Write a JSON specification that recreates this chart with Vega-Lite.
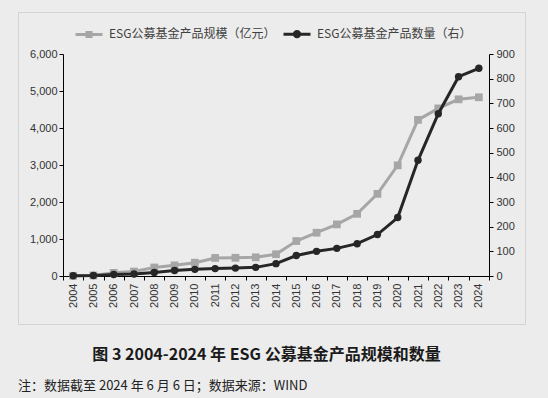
{
  "$schema": "https://vega.github.io/schema/vega-lite/v6.json",
  "width": 507,
  "height": 312,
  "autosize": {"type": "none"},
  "padding": {"left": 18, "top": 12, "right": 23, "bottom": 74},
  "background": "#ececec",
  "config": {"view": {"stroke": "#d3d3d3", "strokeWidth": 1}, "font": "Liberation Sans"},
  "title": {
    "text": "注：数据截至 2024 年 6 月 6 日；数据来源：WIND",
    "orient": "bottom", "anchor": "start", "frame": "group", "offset": 18,
    "fontSize": 13, "fontWeight": "normal", "font": "Noto Sans CJK SC", "color": "#222222", "baseline": "top"
  },
  "data": {"values": [
    {"year": "2004", "series": "ESG公募基金产品规模（亿元）", "value": 5},
    {"year": "2005", "series": "ESG公募基金产品规模（亿元）", "value": 15},
    {"year": "2006", "series": "ESG公募基金产品规模（亿元）", "value": 85},
    {"year": "2007", "series": "ESG公募基金产品规模（亿元）", "value": 120},
    {"year": "2008", "series": "ESG公募基金产品规模（亿元）", "value": 230},
    {"year": "2009", "series": "ESG公募基金产品规模（亿元）", "value": 288},
    {"year": "2010", "series": "ESG公募基金产品规模（亿元）", "value": 360},
    {"year": "2011", "series": "ESG公募基金产品规模（亿元）", "value": 488},
    {"year": "2012", "series": "ESG公募基金产品规模（亿元）", "value": 492},
    {"year": "2013", "series": "ESG公募基金产品规模（亿元）", "value": 505},
    {"year": "2014", "series": "ESG公募基金产品规模（亿元）", "value": 588},
    {"year": "2015", "series": "ESG公募基金产品规模（亿元）", "value": 945},
    {"year": "2016", "series": "ESG公募基金产品规模（亿元）", "value": 1170},
    {"year": "2017", "series": "ESG公募基金产品规模（亿元）", "value": 1395},
    {"year": "2018", "series": "ESG公募基金产品规模（亿元）", "value": 1680},
    {"year": "2019", "series": "ESG公募基金产品规模（亿元）", "value": 2220},
    {"year": "2020", "series": "ESG公募基金产品规模（亿元）", "value": 2990},
    {"year": "2021", "series": "ESG公募基金产品规模（亿元）", "value": 4220},
    {"year": "2022", "series": "ESG公募基金产品规模（亿元）", "value": 4530},
    {"year": "2023", "series": "ESG公募基金产品规模（亿元）", "value": 4775},
    {"year": "2024", "series": "ESG公募基金产品规模（亿元）", "value": 4830},
    {"year": "2004", "series": "ESG公募基金产品数量（右）", "value": 1},
    {"year": "2005", "series": "ESG公募基金产品数量（右）", "value": 2},
    {"year": "2006", "series": "ESG公募基金产品数量（右）", "value": 6},
    {"year": "2007", "series": "ESG公募基金产品数量（右）", "value": 8},
    {"year": "2008", "series": "ESG公募基金产品数量（右）", "value": 14},
    {"year": "2009", "series": "ESG公募基金产品数量（右）", "value": 22},
    {"year": "2010", "series": "ESG公募基金产品数量（右）", "value": 27},
    {"year": "2011", "series": "ESG公募基金产品数量（右）", "value": 30},
    {"year": "2012", "series": "ESG公募基金产品数量（右）", "value": 32},
    {"year": "2013", "series": "ESG公募基金产品数量（右）", "value": 35},
    {"year": "2014", "series": "ESG公募基金产品数量（右）", "value": 50},
    {"year": "2015", "series": "ESG公募基金产品数量（右）", "value": 83},
    {"year": "2016", "series": "ESG公募基金产品数量（右）", "value": 100},
    {"year": "2017", "series": "ESG公募基金产品数量（右）", "value": 112},
    {"year": "2018", "series": "ESG公募基金产品数量（右）", "value": 131},
    {"year": "2019", "series": "ESG公募基金产品数量（右）", "value": 168},
    {"year": "2020", "series": "ESG公募基金产品数量（右）", "value": 237},
    {"year": "2021", "series": "ESG公募基金产品数量（右）", "value": 469},
    {"year": "2022", "series": "ESG公募基金产品数量（右）", "value": 658},
    {"year": "2023", "series": "ESG公募基金产品数量（右）", "value": 808},
    {"year": "2024", "series": "ESG公募基金产品数量（右）", "value": 842}
  ]},
  "encoding": {
    "x": {
      "field": "year", "type": "ordinal",
      "scale": {"type": "band", "range": [45, 471], "paddingInner": 0, "paddingOuter": 0},
      "axis": {
        "orient": "bottom", "offset": -48, "tickBand": "extent",
        "labelAngle": -90, "labelAlign": "right", "labelBaseline": "middle",
        "labelFontSize": 11, "labelColor": "#333333", "labelPadding": 3,
        "domainColor": "#000000", "tickColor": "#000000", "tickSize": 4, "grid": false,
        "title": "图 3 2004-2024 年 ESG 公募基金产品规模和数量",
        "titleX": 248, "titleY": 78, "titleAlign": "center", "titleBaseline": "middle", "titleAngle": 0,
        "titleFont": "Noto Sans CJK SC", "titleFontSize": 16, "titleFontWeight": "bold", "titleColor": "#1a1a1a"
      }
    },
    "color": {
      "field": "series", "type": "nominal",
      "scale": {"domain": ["ESG公募基金产品规模（亿元）", "ESG公募基金产品数量（右）"], "range": ["#a6a6a6", "#262626"]},
      "legend": {
        "orient": "none", "legendX": 56, "legendY": 7, "direction": "horizontal", "columns": 2,
        "title": null, "padding": 0, "labelFontSize": 12, "labelFont": "Noto Sans CJK SC", "labelColor": "#404040",
        "labelOffset": 5, "columnPadding": 1, "symbolSize": 729, "labelLimit": 300,
        "encode": {"symbols": {"update": {
          "shape": {"signal": "datum.value === 'ESG公募基金产品规模（亿元）' ? 'M-1,0H1M-0.15,-0.15H0.15V0.15H-0.15Z' : 'M-1,0H1M0.2,0A0.2,0.2 0 1,1 -0.2,0A0.2,0.2 0 1,1 0.2,0Z'"},
          "fill": {"signal": "datum.value === 'ESG公募基金产品规模（亿元）' ? '#a6a6a6' : '#262626'"},
          "stroke": {"signal": "datum.value === 'ESG公募基金产品规模（亿元）' ? '#a6a6a6' : '#262626'"},
          "strokeWidth": {"value": 3},
          "size": {"value": 729},
          "opacity": {"value": 1},
          "fillOpacity": {"value": 1},
          "strokeOpacity": {"value": 1}
        }}}
      }
    }
  },
  "layer": [
    {
      "transform": [{"filter": "datum.series === 'ESG公募基金产品规模（亿元）'"}],
      "encoding": {
        "y": {
          "field": "value", "type": "quantitative",
          "scale": {"domain": [0, 6000], "range": [264, 42], "nice": false},
          "axis": {
            "orient": "left", "offset": -45, "values": [0, 1000, 2000, 3000, 4000, 5000, 6000], "format": ",d",
            "grid": false, "domainColor": "#000000", "tickColor": "#000000", "tickSize": 4,
            "labelFontSize": 11, "labelColor": "#333333", "labelPadding": 2, "title": null
          }
        }
      },
      "layer": [
        {"mark": {"type": "line", "strokeWidth": 3}},
        {"mark": {"type": "point", "shape": "square", "filled": true, "size": 60, "opacity": 1}}
      ]
    },
    {
      "transform": [{"filter": "datum.series === 'ESG公募基金产品数量（右）'"}],
      "encoding": {
        "y": {
          "field": "value", "type": "quantitative",
          "scale": {"domain": [0, 900], "range": [264, 42], "nice": false},
          "axis": {
            "orient": "right", "offset": -36, "values": [0, 100, 200, 300, 400, 500, 600, 700, 800, 900],
            "grid": false, "domainColor": "#000000", "tickColor": "#000000", "tickSize": 4,
            "labelFontSize": 11, "labelColor": "#333333", "labelPadding": 3, "title": null
          }
        }
      },
      "layer": [
        {"mark": {"type": "line", "strokeWidth": 3}},
        {"mark": {"type": "point", "shape": "circle", "filled": true, "size": 55, "opacity": 1}}
      ]
    }
  ],
  "resolve": {"scale": {"y": "independent"}}
}
